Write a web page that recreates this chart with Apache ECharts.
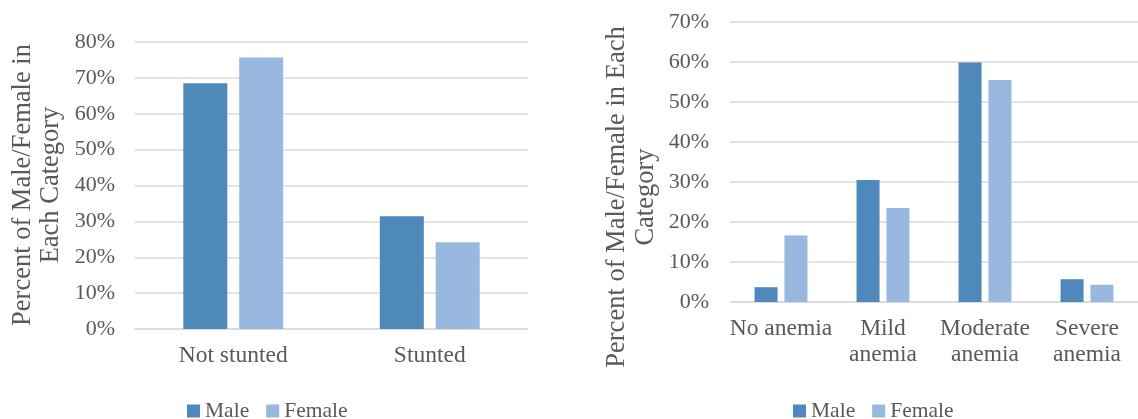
<!DOCTYPE html>
<html>
<head>
<meta charset="utf-8">
<script src="https://cdn.jsdelivr.net/npm/echarts@6/dist/echarts.min.js"></script>
<style>
  html, body { margin: 0; padding: 0; background: #fff; }
  #chart { width: 1138px; height: 419px; }
</style>
</head>
<body>
<div id="chart"></div>
<script>
// stunting chart (left)
const stuntCats = ['Not stunted', 'Stunted']
const stuntMale = [68.5, 31.4]
const stuntFemale = [75.7, 24.2]
// anemia chart (right)
const anemiaCats = ['No anemia', 'Mild\nanemia', 'Moderate\nanemia', 'Severe\nanemia']
const anemiaMale = [3.7, 30.5, 59.9, 5.7]
const anemiaFemale = [16.6, 23.5, 55.5, 4.3]

const FONT = '"Liberation Serif", "DejaVu Serif", serif'
const TXT = '#595959'
const MALE = '#4F88BB'
const FEMALE = '#98B8DF'

const myChart = echarts.init(document.getElementById('chart'))

function yAxisOpt(idx, max, margin) {
  return {
    type: 'value', gridIndex: idx, min: 0, max: max, interval: 10,
    axisLine: { show: false }, axisTick: { show: false },
    splitLine: { lineStyle: { color: '#D9D9D9', width: 1.5 } },
    axisLabel: { formatter: '{value}%', color: TXT, fontFamily: FONT, fontSize: 22, margin: margin }
  }
}

function xAxisOpt(idx, cats) {
  return {
    type: 'category', gridIndex: idx, data: cats,
    axisLine: { lineStyle: { color: '#D9D9D9', width: 1.5 } },
    axisTick: { show: false },
    axisLabel: { color: TXT, fontFamily: FONT, fontSize: 23.5, lineHeight: 26, margin: 14, interval: 0 }
  }
}

function legendOpt(left) {
  return {
    left: left, top: 395, itemWidth: 13, itemHeight: 13, itemGap: 17,
    icon: 'rect', data: ['Male', 'Female'],
    textStyle: { color: TXT, fontFamily: FONT, fontSize: 21.5 }
  }
}

const option = {
  animation: false,
  grid: [
    { left: 135, right: 610, top: 42, bottom: 90 },
    { left: 730, right: -8, top: 22, bottom: 117 }
  ],
  xAxis: [xAxisOpt(0, stuntCats), xAxisOpt(1, anemiaCats)],
  yAxis: [yAxisOpt(0, 80, 20), yAxisOpt(1, 70, 21)],
  legend: [legendOpt(182), legendOpt(788)],
  graphic: [
    {
      type: 'text', x: 37, y: 185, rotation: Math.PI / 2,
      style: {
        text: 'Percent of Male/Female in\nEach Category', fill: TXT,
        font: '26.5px ' + FONT, lineHeight: 28, textAlign: 'center', textVerticalAlign: 'middle'
      }
    },
    {
      type: 'text', x: 632, y: 197, rotation: Math.PI / 2,
      style: {
        text: 'Percent of Male/Female in Each\nCategory', fill: TXT,
        font: '26.5px ' + FONT, lineHeight: 29, textAlign: 'center', textVerticalAlign: 'middle'
      }
    }
  ],
  series: [
    { name: 'Male', type: 'bar', xAxisIndex: 0, yAxisIndex: 0, data: stuntMale,
      barWidth: 44, barGap: '27%', itemStyle: { color: MALE } },
    { name: 'Female', type: 'bar', xAxisIndex: 0, yAxisIndex: 0, data: stuntFemale,
      barWidth: 44, barGap: '27%', itemStyle: { color: FEMALE } },
    { name: 'Male', type: 'bar', xAxisIndex: 1, yAxisIndex: 1, data: anemiaMale,
      barWidth: 23, barGap: '30%', itemStyle: { color: MALE } },
    { name: 'Female', type: 'bar', xAxisIndex: 1, yAxisIndex: 1, data: anemiaFemale,
      barWidth: 23, barGap: '30%', itemStyle: { color: FEMALE } }
  ]
}

option && myChart.setOption(option)
</script>
</body>
</html>
